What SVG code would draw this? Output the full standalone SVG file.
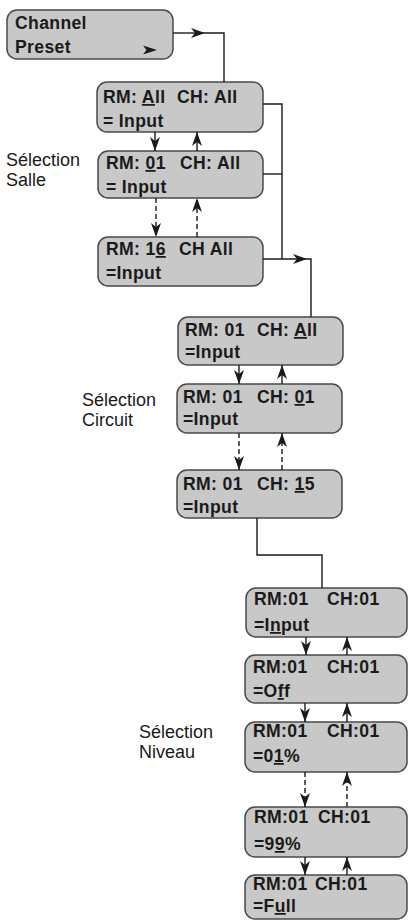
<svg xmlns="http://www.w3.org/2000/svg" width="408" height="920" viewBox="0 0 408 920">
<defs>
<style>
.box{fill:#c8c8c8;stroke:#4a4a4a;stroke-width:1.5}
.t{font-family:"Liberation Sans",Arial,sans-serif;font-weight:bold;font-size:17.6px;letter-spacing:0.35px;fill:#1a1a1a}
.lbl{font-family:"Liberation Sans",Arial,sans-serif;font-size:18px;fill:#1a1a1a}
.u{text-decoration:underline}
.c{fill:none;stroke:#1a1a1a;stroke-width:1.4}
.d{stroke-dasharray:5 3}
.a{marker-end:url(#ah)}
</style>
<marker id="ah" markerUnits="userSpaceOnUse" markerWidth="16" markerHeight="12" viewBox="-15 -6 16 12" refX="0" refY="0" orient="auto">
<path d="M-14,-5 L0,0 L-14,5 L-10,0 z" fill="#1a1a1a"/>
</marker>
</defs>

<g id="node-channel-preset">
<rect class="box" x="7" y="10" width="166" height="49" rx="10"/>
<text class="t" x="15" y="29">Channel</text>
<text class="t" x="15" y="53">Preset</text>
<path d="M143,45.5 L157,50 L143,54.5 L146.5,50 z" fill="#1a1a1a"/>
</g>

<g id="node-rm-all">
<rect class="box" x="97" y="82" width="166" height="50" rx="10"/>
<text class="t" x="103" y="103">RM: <tspan class="u">A</tspan>ll</text>
<text class="t" x="177" y="103">CH: All</text>
<text class="t" x="103" y="127">= Input</text>
</g>

<g id="node-rm-01">
<rect class="box" x="98" y="151" width="165" height="47" rx="10"/>
<text class="t" x="106" y="169">RM: <tspan class="u">0</tspan>1</text>
<text class="t" x="180" y="169">CH: All</text>
<text class="t" x="106" y="193">= Input</text>
</g>

<g id="node-rm-16">
<rect class="box" x="98" y="237" width="165" height="49" rx="10"/>
<text class="t" x="106" y="255">RM: 1<tspan class="u">6</tspan></text>
<text class="t" x="179" y="255">CH All</text>
<text class="t" x="106" y="279">=Input</text>
</g>

<g id="node-ch-all">
<rect class="box" x="178" y="317" width="165" height="48" rx="10"/>
<text class="t" x="185" y="336">RM: 01</text>
<text class="t" x="257" y="336">CH: <tspan class="u">A</tspan>ll</text>
<text class="t" x="185" y="358">=Input</text>
</g>

<g id="node-ch-01">
<rect class="box" x="177" y="384" width="165" height="49" rx="10"/>
<text class="t" x="183" y="403">RM: 01</text>
<text class="t" x="257" y="403">CH: <tspan class="u">0</tspan>1</text>
<text class="t" x="183" y="425">=Input</text>
</g>

<g id="node-ch-15">
<rect class="box" x="177" y="470" width="165" height="48" rx="10"/>
<text class="t" x="183" y="490">RM: 01</text>
<text class="t" x="257" y="490">CH: <tspan class="u">1</tspan>5</text>
<text class="t" x="183" y="513">=Input</text>
</g>

<g id="node-input">
<rect class="box" x="246" y="588" width="161" height="49" rx="10"/>
<text class="t" x="254" y="605">RM:01</text>
<text class="t" x="327" y="605">CH:01</text>
<text class="t" x="254" y="631">=I<tspan class="u">n</tspan>put</text>
</g>

<g id="node-off">
<rect class="box" x="245" y="655" width="162" height="48" rx="10"/>
<text class="t" x="253" y="673">RM:01</text>
<text class="t" x="327" y="673">CH:01</text>
<text class="t" x="253" y="697">=O<tspan class="u">f</tspan>f</text>
</g>

<g id="node-01pct">
<rect class="box" x="245" y="722" width="162" height="50" rx="10"/>
<text class="t" x="253" y="737">RM:01</text>
<text class="t" x="327" y="737">CH:01</text>
<text class="t" x="253" y="762">=0<tspan class="u">1</tspan>%</text>
</g>

<g id="node-99pct">
<rect class="box" x="245" y="807" width="162" height="50" rx="10"/>
<text class="t" x="254" y="823">RM:01</text>
<text class="t" x="318" y="823">CH:01</text>
<text class="t" x="254" y="850">=9<tspan class="u">9</tspan>%</text>
</g>

<g id="node-full">
<rect class="box" x="245" y="875" width="162" height="44" rx="10"/>
<text class="t" x="253" y="890">RM:01</text>
<text class="t" x="315" y="890">CH:01</text>
<text class="t" x="253" y="912">=F<tspan class="u">u</tspan>ll</text>
</g>

<g id="labels">
<text class="lbl" x="6" y="166">Sélection</text>
<text class="lbl" x="6" y="186">Salle</text>
<text class="lbl" x="82" y="406">Sélection</text>
<text class="lbl" x="82" y="426">Circuit</text>
<text class="lbl" x="139" y="738">Sélection</text>
<text class="lbl" x="139" y="758">Niveau</text>
</g>

<g id="connectors">
<path class="c a" d="M173,33 H205"/>
<path class="c" d="M205,33 H224 V82"/>
<path class="c" d="M263,104 H282 V259"/>
<path class="c" d="M263,174 H282"/>
<path class="c a" d="M263,259 H307"/>
<path class="c" d="M307,259 H311 V317"/>
<path class="c" d="M257,518 V555 H322 V588"/>

<path class="c a" d="M155,132 V151"/>
<path class="c a" d="M197,151 V132"/>
<path class="c d a" d="M156,198 V237"/>
<path class="c d a" d="M197,237 V198"/>

<path class="c a" d="M239,365 V384"/>
<path class="c a" d="M282,384 V365"/>
<path class="c d a" d="M239,433 V470"/>
<path class="c d a" d="M282,470 V433"/>

<path class="c a" d="M306,637 V655"/>
<path class="c a" d="M347,655 V637"/>
<path class="c a" d="M305,703 V722"/>
<path class="c a" d="M347,722 V703"/>
<path class="c d a" d="M305,772 V807"/>
<path class="c d a" d="M347,807 V772"/>
<path class="c a" d="M305,857 V875"/>
<path class="c a" d="M347,875 V857"/>
</g>
</svg>
